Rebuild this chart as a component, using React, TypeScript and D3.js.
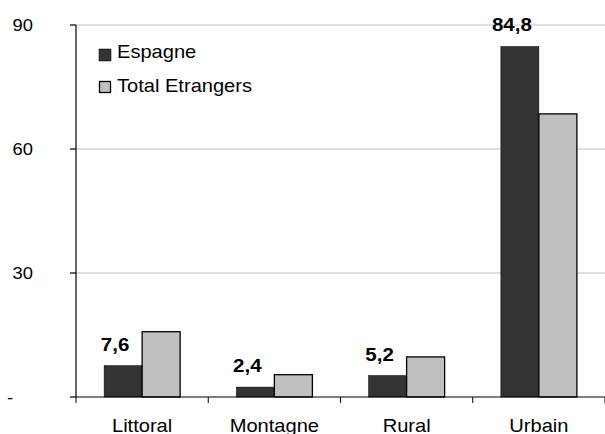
import React from "react";
import * as d3 from "d3";

const categories = ["Littoral", "Montagne", "Rural", "Urbain"];
const seriesNames = ["Espagne", "Total Etrangers"];
const espagne = [7.6, 2.4, 5.2, 84.8];
const totalEtrangers = [15.8, 5.4, 9.7, 68.5];
const espagneLabels = ["7,6", "2,4", "5,2", "84,8"];
const yTicks = [0, 30, 60, 90];
const yTickLabels = ["-", "30", "60", "90"];

const W = 605;
const H = 434;
const FONT = "'Liberation Sans', Arial, Helvetica, sans-serif";
const SX = 1.08;
const colors = ["#333333", "#c0c0c0"];

export default function App() {
  const x0 = d3.scaleBand<string>().domain(categories).range([76, 605]).padding(0);
  const x1 = d3
    .scaleBand<string>()
    .domain(seriesNames)
    .range([0, x0.bandwidth()])
    .paddingInner(0)
    .paddingOuter(0.74);
  const y = d3.scaleLinear().domain([0, 90]).range([397, 25]);
  const data = [espagne, totalEtrangers];

  const T = (x: number, yy: number, s: string, opts: any = {}) => (
    <text
      transform={`translate(${x},${yy}) scale(${SX},1)`}
      fontFamily={FONT}
      fontSize={opts.size ?? 18.6}
      fontWeight={opts.bold ? "bold" : "normal"}
      textAnchor={opts.anchor ?? "start"}
      fill="#000"
    >
      {s}
    </text>
  );

  const xTickPos = [...categories.map((c) => x0(c)!), 605];

  return (
    <svg width={W} height={H} style={{ position: "absolute", left: 0, top: 0 }}>
      <rect width={W} height={H} fill="#fff" />
      {/* gridlines */}
      {yTicks.slice(1).map((t) => (
        <line key={t} x1={76} x2={605} y1={y(t)} y2={y(t)} stroke="#c0c0c0" strokeWidth={1} />
      ))}
      {/* bars */}
      {categories.map((c, i) =>
        seriesNames.map((s, j) => {
          const v = data[j][i];
          return (
            <rect
              key={c + s}
              x={x0(c)! + x1(s)!}
              y={y(v)}
              width={x1.bandwidth()}
              height={y(0) - y(v)}
              fill={colors[j]}
              stroke="#000"
              strokeWidth={j === 1 ? 1.3 : 0.5}
            />
          );
        })
      )}
      {/* y axis */}
      <line x1={76} x2={76} y1={y(90)} y2={y(0)} stroke="#000" strokeWidth={1.2} />
      {yTicks.map((t) => (
        <line key={t} x1={70} x2={76} y1={y(t)} y2={y(t)} stroke="#000" strokeWidth={1.2} />
      ))}
      {yTicks.map((t, i) =>
        i === 0 ? (
          <g key={t}>{T(7, y(t) + 6, yTickLabels[i], { size: 17 })}</g>
        ) : (
          <g key={t}>{T(33, y(t) + 6, yTickLabels[i], { size: 17, anchor: "end" })}</g>
        )
      )}
      {/* x axis */}
      <line x1={76} x2={605} y1={y(0)} y2={y(0)} stroke="#000" strokeWidth={1.2} />
      {xTickPos.map((p, i) => (
        <line key={i} x1={p} x2={p} y1={y(0)} y2={y(0) + 6} stroke="#000" strokeWidth={1} />
      ))}
      {categories.map((c) => (
        <g key={c}>{T(x0(c)! + x0.bandwidth() / 2, 432, c, { size: 18.6, anchor: "middle" })}</g>
      ))}
      {/* value labels */}
      {categories.map((c, i) => (
        <g key={c}>
          {T(
            x0(c)! + x1(seriesNames[0])! + x1.bandwidth() / 2 - 8,
            y(espagne[i]) - 15,
            espagneLabels[i],
            { size: 19, bold: true, anchor: "middle" }
          )}
        </g>
      ))}
      {/* legend */}
      <rect x={99} y={49} width={12} height={12} fill={colors[0]} stroke="#000" strokeWidth={0.5} />
      {T(117, 58, seriesNames[0])}
      <rect x={99.5} y={81.5} width={11} height={11} fill={colors[1]} stroke="#000" strokeWidth={1.3} />
      {T(117, 91.5, seriesNames[1])}
    </svg>
  );
}
